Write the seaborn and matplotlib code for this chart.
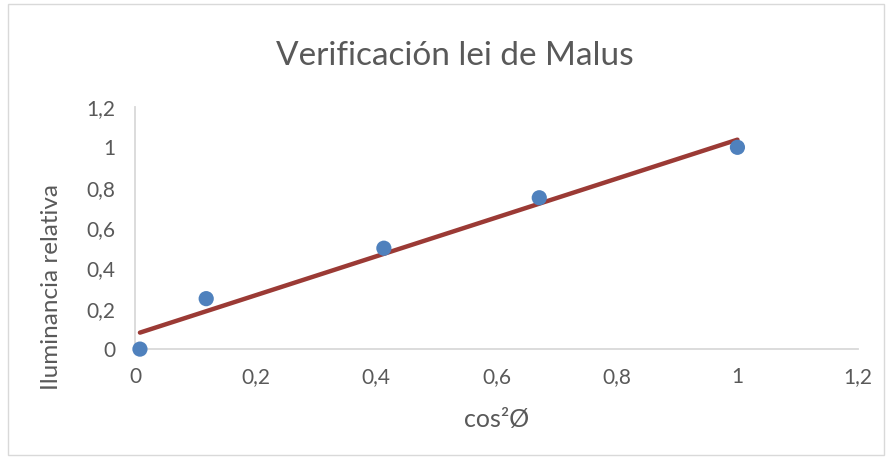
import numpy as np
import pandas as pd

import matplotlib.pyplot as plt
import seaborn as sns
from matplotlib.patches import Rectangle


cos2 = [0.008, 0.118, 0.413, 0.671, 1.0]
ilum = [0.0, 0.25, 0.5, 0.75, 1.0]
ticks = [0, 0.2, 0.4, 0.6, 0.8, 1, 1.2]
tick_labels = ["0", "0,2", "0,4", "0,6", "0,8", "1", "1,2"]

df = pd.DataFrame({"cos2": cos2, "ilum": ilum})

sns.set_theme(style="white")
plt.rcParams['font.family'] = ['Lato', 'DejaVu Sans']

fig = plt.figure(figsize=(8.89, 4.63), dpi=100)
ax = fig.add_axes([0.152, 0.246, 0.813, 0.523])

# tendencia lineal
sns.regplot(x="cos2", y="ilum", data=df, ci=None, scatter=False, truncate=True,
            line_kws={"color": "#9b3a35", "linewidth": 3.2, "solid_capstyle": "round"}, ax=ax)
sns.scatterplot(x="cos2", y="ilum", data=df, color="#4f81bd", s=120,
                edgecolor="none", zorder=3, ax=ax, clip_on=False)

ax.set_xlim(0, 1.2)
ax.set_ylim(0, 1.2)
ax.set_xticks(ticks)
ax.set_xticklabels(tick_labels)
ax.set_yticks(ticks)
ax.set_yticklabels(tick_labels)
ax.tick_params(axis="both", length=0, labelsize=15, labelcolor="#595959")
ax.tick_params(axis="x", pad=13)
ax.tick_params(axis="y", pad=14)

for side in ["top", "right"]:
    ax.spines[side].set_visible(False)
for side in ["left", "bottom"]:
    ax.spines[side].set_color("#d9d9d9")
    ax.spines[side].set_linewidth(1.3)

ax.set_xlabel("cos²Ø", fontsize=18, color="#595959", labelpad=15)
ax.set_ylabel("Iluminancia relativa", fontsize=17.5, color="#595959")
ax.yaxis.set_label_coords(-0.101, 0.256)
fig.text(0.512, 0.88, "Verificación lei de Malus", ha="center", va="center",
         fontsize=24, color="#595959")

fig.patches.append(Rectangle((0.009, 0.017), 0.985, 0.975, transform=fig.transFigure,
                             fill=False, edgecolor="#d9d9d9", linewidth=1))

plt.savefig("out.png", dpi=100)
plt.close()
